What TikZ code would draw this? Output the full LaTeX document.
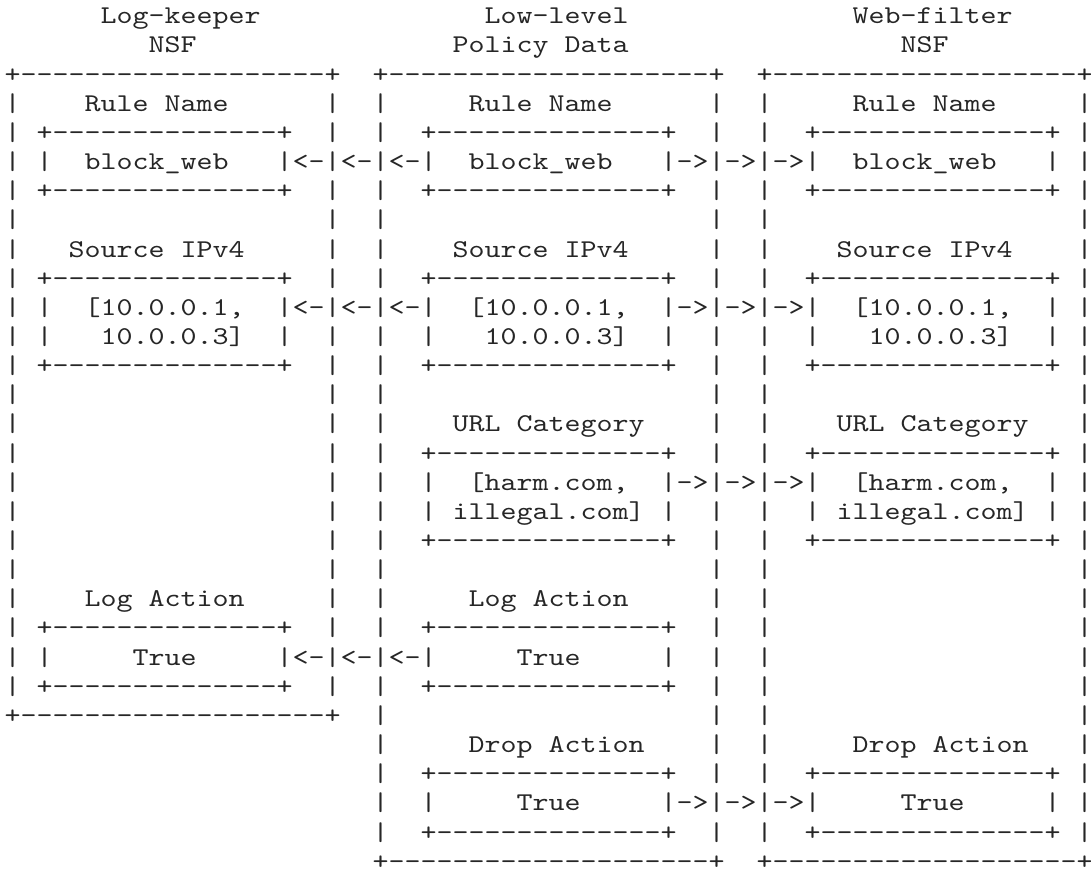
\documentclass[tikz,border=0pt]{standalone}
\usepackage{graphicx}

% A vertical bar stretched to a fixed ink length (10pt) with its foot 1.8pt
% below the baseline, so that bars on successive lines nearly join up
\newcommand\vbar{\raisebox{-1.8pt}{\raisebox{\depth}{\resizebox*{\width}{10pt}{|}}}}
% Stores one line of the fixed-pitch drawing
\newcommand\setrow[2]{\expandafter\gdef\csname asciirow#1\endcsname{#2}}

% Lines of the drawing: spaces are kept one by one, '|' becomes \vbar
\begingroup
\catcode`\_=12 \catcode`\|=13 \obeyspaces%
\gdef|{\vbar}%
\gdef {\ }%
\setrow{1}{      Log-keeper              Low-level              Web-filter}%
\setrow{2}{         NSF                Policy Data                 NSF}%
\setrow{3}{+-------------------+  +--------------------+  +-------------------+}%
\setrow{4}{|    Rule Name      |  |     Rule Name      |  |     Rule Name     |}%
\setrow{5}{| +--------------+  |  |  +--------------+  |  |  +--------------+ |}%
\setrow{6}{| |  block_web   |<-|<-|<-|  block_web   |->|->|->|  block_web   | |}%
\setrow{7}{| +--------------+  |  |  +--------------+  |  |  +--------------+ |}%
\setrow{8}{|                   |  |                    |  |                   |}%
\setrow{9}{|   Source IPv4     |  |    Source IPv4     |  |    Source IPv4    |}%
\setrow{10}{| +--------------+  |  |  +--------------+  |  |  +--------------+ |}%
\setrow{11}{| |  [10.0.0.1,  |<-|<-|<-|  [10.0.0.1,  |->|->|->|  [10.0.0.1,  | |}%
\setrow{12}{| |   10.0.0.3]  |  |  |  |   10.0.0.3]  |  |  |  |   10.0.0.3]  | |}%
\setrow{13}{| +--------------+  |  |  +--------------+  |  |  +--------------+ |}%
\setrow{14}{|                   |  |                    |  |                   |}%
\setrow{15}{|                   |  |    URL Category    |  |    URL Category   |}%
\setrow{16}{|                   |  |  +--------------+  |  |  +--------------+ |}%
\setrow{17}{|                   |  |  |  [harm.com,  |->|->|->|  [harm.com,  | |}%
\setrow{18}{|                   |  |  | illegal.com] |  |  |  | illegal.com] | |}%
\setrow{19}{|                   |  |  +--------------+  |  |  +--------------+ |}%
\setrow{20}{|                   |  |                    |  |                   |}%
\setrow{21}{|    Log Action     |  |     Log Action     |  |                   |}%
\setrow{22}{| +--------------+  |  |  +--------------+  |  |                   |}%
\setrow{23}{| |     True     |<-|<-|<-|     True     |  |  |                   |}%
\setrow{24}{| +--------------+  |  |  +--------------+  |  |                   |}%
\setrow{25}{+-------------------+  |                    |  |                   |}%
\setrow{26}{                       |     Drop Action    |  |     Drop Action   |}%
\setrow{27}{                       |  +--------------+  |  |  +--------------+ |}%
\setrow{28}{                       |  |     True     |->|->|->|     True     | |}%
\setrow{29}{                       |  +--------------+  |  |  +--------------+ |}%
\setrow{30}{                       +--------------------+  +-------------------+}%
\endgroup

\begin{document}
\begin{tikzpicture}[x=0.375pt,y=-0.375pt,
  rowtext/.style={anchor=base west,inner sep=0pt,outer sep=0pt,text=black!85,
    font=\fontsize{9.6}{11}\selectfont\ttfamily}]
\fill[white] (0,0) rectangle (1091,872);
\useasboundingbox (0,0) rectangle (1091,872);
% one node per line, baselines 29.15 units apart, columns 16 units wide
\foreach \n in {1,...,30}
  \node[rowtext] (row\n) at (4.7,{23.8+29.15*(\n-1)})
    {\scalebox{1.1905}[1]{\csname asciirow\n\endcsname}};
\end{tikzpicture}
\end{document}
